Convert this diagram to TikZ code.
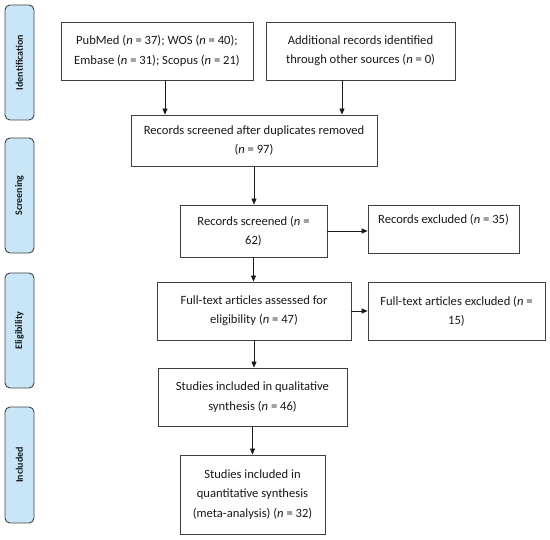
\documentclass[tikz,border=0pt]{standalone}
\usepackage{fontspec}
\setmainfont{Carlito}
\usepackage{tikz}
\usetikzlibrary{arrows.meta,positioning,calc}
\definecolor{ink}{HTML}{1A1A1A}
\definecolor{frame}{HTML}{404040}
\definecolor{phasefill}{HTML}{C8E6F8}

\begin{document}
\begin{tikzpicture}[
  x=1pt,y=-1pt,
  every node/.style={font=\fontsize{12.6pt}{19.3pt}\selectfont,text=ink},
  stagebox/.style={rectangle,draw=frame,line width=0.8pt,fill=white,align=center,inner sep=1pt},
  phase/.style={rectangle,rounded corners=5pt,draw=frame,line width=0.9pt,fill=phasefill,
    rotate=90,minimum height=29pt,font=\fontsize{10pt}{12pt}\selectfont\bfseries,inner sep=0pt},
  link/.style={line width=0.8pt,color=ink,-{Triangle[length=6pt,width=5pt]}}
]
\useasboundingbox (0,0) rectangle (550,540);
% phases on the left
\node[phase,minimum width=115pt] (pid) at (19.5,62.5) {Identification};
\node[phase,minimum width=115pt] (pscr) at (19.5,195.5) {Screening};
\node[phase,minimum width=115pt] (pel) at (19.5,330.5) {Eligibility};
\node[phase,minimum width=116pt] (pinc) at (19.5,465) {Included};
% boxes
\node[stagebox,minimum width=192pt,minimum height=58pt] (db) at (157,51)
  {PubMed (\textit{n} = 37); WOS (\textit{n} = 40);\\Embase (\textit{n} = 31); Scopus (\textit{n} = 21)};
\node[stagebox,minimum width=189pt,minimum height=58pt] (other) at (360.5,51)
  {Additional records identified\\through other sources (\textit{n} = 0)};
\node[stagebox,minimum width=246pt,minimum height=51pt] (dup) at (254,140.5)
  {Records screened after duplicates removed\\(\textit{n} = 97)};
\node[stagebox,minimum width=147pt,minimum height=52pt] (scr) at (253.5,231)
  {Records screened (\textit{n} =\\62)};
\node[stagebox,minimum width=151pt,minimum height=48pt] (exc) at (443.5,229)
  {Records excluded (\textit{n} = 35)\\\mbox{}};
\node[stagebox,minimum width=194pt,minimum height=58pt] (full) at (254,311)
  {Full-text articles assessed for\\eligibility (\textit{n} = 47)};
\node[stagebox,minimum width=177pt,minimum height=58pt] (fexc) at (456.5,311)
  {Full-text articles excluded (\textit{n} =\\15)};
\node[stagebox,minimum width=189pt,minimum height=58pt] (qual) at (252.5,397)
  {Studies included in qualitative\\synthesis (\textit{n} = 46)};
\node[stagebox,minimum width=145pt,minimum height=79pt] (quant) at (252.5,494.5)
  {Studies included in\\quantitative synthesis\\(meta-analysis) (\textit{n} = 32)};
% connectors
\draw[link] ([xshift=8pt]db.south) -- ([xshift=8pt]db.south |- dup.north);
\draw[link] ([xshift=-18.5pt]other.south) -- ([xshift=-18.5pt]other.south |- dup.north);
\draw[link] (dup.south) -- (dup.south |- scr.north);
\draw[link] (scr.east) -- (scr.east -| exc.west);
\draw[link] (scr.south) -- (scr.south |- full.north);
\draw[link] (full.east) -- (full.east -| fexc.west);
\draw[link] (full.south) -- (full.south |- qual.north);
\draw[link] (qual.south) -- (qual.south |- quant.north);
\end{tikzpicture}
\end{document}
